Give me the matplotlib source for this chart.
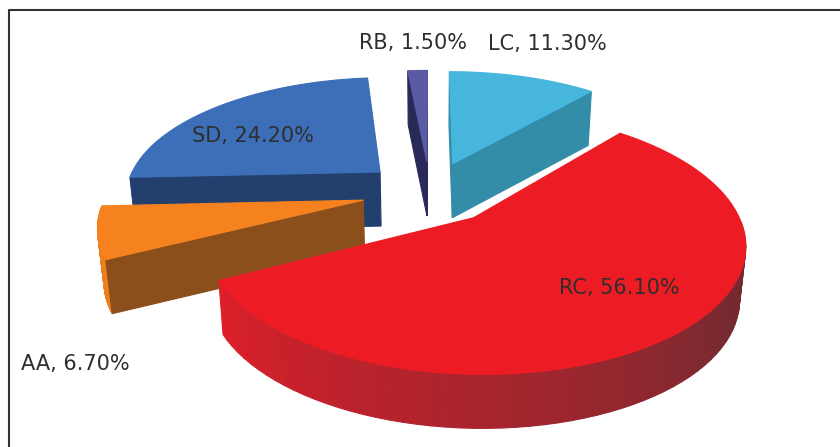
import numpy as np
import matplotlib
matplotlib.use('Agg')
import matplotlib.pyplot as plt

categories = ['LC', 'RC', 'AA', 'SD', 'RB']
values = [11.3, 56.1, 6.7, 24.2, 1.5]
value_labels = ['11.30%', '56.10%', '6.70%', '24.20%', '1.50%']

top_colors = ['#46b6dc', '#ed1c24', '#f5821f', '#3d6fb8', '#5a5aa5']
side_colors = ['#338ca8', '#7a2a30', '#8a4f1a', '#223f6e', '#2a2a58']
wall_start = ['#3a9fc0', '#762a30', '#ee7f1e', '#2f5d9e', '#4a4a90']
wall_end = ['#3a9fc0', '#dc1f2a', '#ee7f1e', '#2f5d9e', '#4a4a90']

# pie geometry in pixels, with a simple perspective on the plane of the pie
cx, cy = 430, 192
rx, ry = 284, 131
persp = 0.2
radius = 0.9
depth = 54
taper = 0.02  # underside of the pie is a bit narrower than the top
explode = 0.24


def project(x, y, z=0.0):
    w = 1 + persp * y
    sx = cx + rx * x / w
    sx += (cx - sx) * taper * z / depth
    return sx, cy - ry * y / w + z


def mix(c1, c2, t):
    a = np.array(matplotlib.colors.to_rgb(c1))
    b = np.array(matplotlib.colors.to_rgb(c2))
    return tuple(a + (b - a) * t)


def poly(ax, pts, color):
    xs = [p[0] for p in pts]
    ys = [p[1] for p in pts]
    ax.fill(xs, ys, facecolor=color, edgecolor=color, linewidth=0.8)


def radial_visible(apex, rim, inner):
    # a cut face shows when the slice lies above its edge on screen
    ex, ey = rim[0] - apex[0], rim[1] - apex[1]
    cross = ex * (inner[1] - apex[1]) - ey * (inner[0] - apex[0])
    return cross * ex < 0


def draw_slice(ax, i, start, end):
    mid = np.radians((start + end) / 2)
    ox, oy = explode * np.sin(mid), explode * np.cos(mid)
    th = np.radians(np.linspace(start, end, 80))
    rim_x = ox + radius * np.sin(th)
    rim_y = oy + radius * np.cos(th)

    # outer wall, front half only, one quad per step so the shade can change
    for k in range(len(th) - 1):
        if np.cos(th[k]) > 0:
            continue
        t = max(0, (k / (len(th) - 2) - 0.4) / 0.6)
        poly(ax, [project(rim_x[k], rim_y[k]), project(rim_x[k + 1], rim_y[k + 1]),
                  project(rim_x[k + 1], rim_y[k + 1], depth), project(rim_x[k], rim_y[k], depth)],
             mix(wall_start[i], wall_end[i], t))

    # cut faces
    apex = project(ox, oy)
    inner = project(ox + 0.5 * radius * np.sin(mid), oy + 0.5 * radius * np.cos(mid))
    for k in [0, -1]:
        rim = project(rim_x[k], rim_y[k])
        if radial_visible(apex, rim, inner):
            poly(ax, [apex, rim, project(rim_x[k], rim_y[k], depth), project(ox, oy, depth)],
                 side_colors[i])

    # top face
    pts = [apex] + [project(a, b) for a, b in zip(rim_x, rim_y)]
    poly(ax, pts, top_colors[i])


fig = plt.figure(figsize=(8.4, 4.47), dpi=100)
ax = fig.add_axes([0, 0, 1, 1])
ax.set_xlim(0, 840)
ax.set_ylim(447, 0)
ax.axis('off')

# frame
ax.plot([9, 9, 840], [447, 10, 10], color='#333333', lw=1.5)

edges = np.cumsum([0] + values) / sum(values) * 360
# back to front
for i in [4, 0, 3, 2, 1]:
    draw_slice(ax, i, edges[i], edges[i + 1])

label_pos = [(547, 44), (619, 288), (75, 364), (253, 136), (413, 43)]
for i in range(len(categories)):
    ax.text(label_pos[i][0], label_pos[i][1], categories[i] + ', ' + value_labels[i],
            ha='center', va='center', fontsize=15, color='#2e2e2e', family='DejaVu Sans')

fig.savefig('out.png', dpi=100)
